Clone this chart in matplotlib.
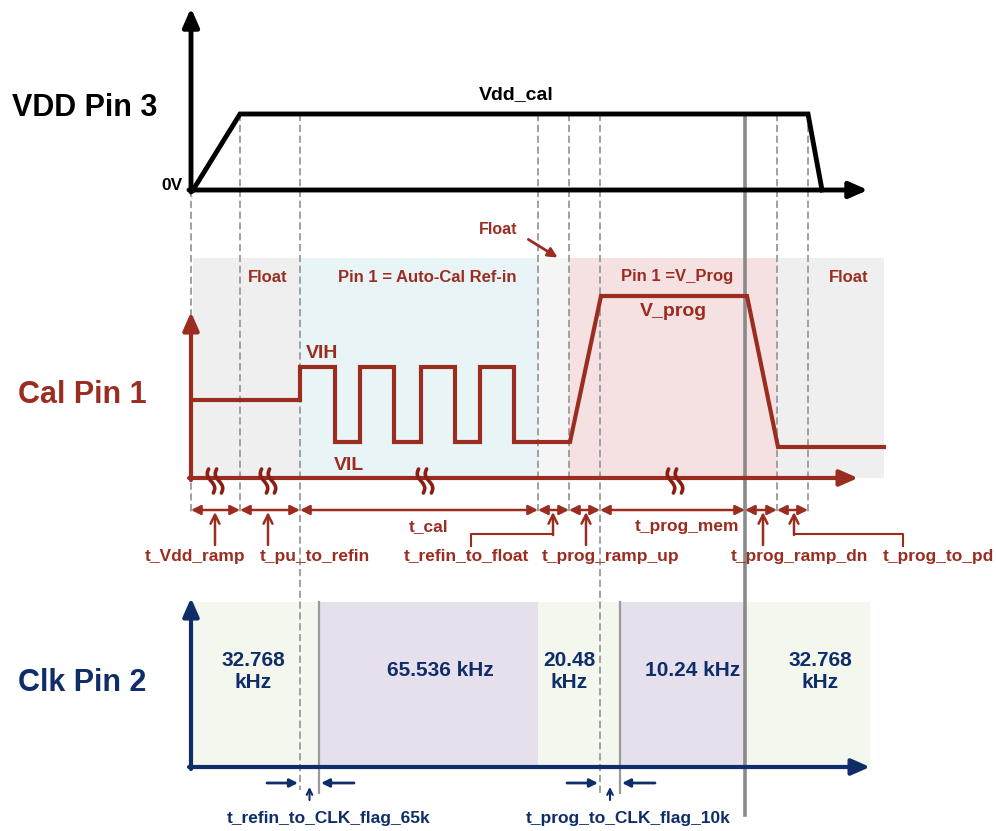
import matplotlib.pyplot as plt
import numpy as np

plt.rcParams['font.family'] = ['Liberation Sans', 'DejaVu Sans']
plt.rcParams['font.weight'] = 'bold'

RED = '#9b2d20'
NAVY = '#0f2d69'
GRID = '#9a9a9a'

# time marks (horizontal units) and levels (vertical units, top-down)
t_marks = [191, 240, 300, 538, 569, 600, 745, 777, 808]
t_clk_flags = [319, 620]

vdd_t = [193, 240, 808, 822]
vdd_v = [190, 114, 114, 190]

cal_t = [193, 300, 300, 335, 335, 360, 360, 394, 394, 421, 421, 455, 455,
         480, 480, 514, 514, 570, 601, 747, 778, 884]
cal_v = [400, 400, 367, 367, 442, 442, 367, 367, 442, 442, 367, 367, 442,
         442, 367, 367, 442, 442, 296, 296, 447, 447]

cal_regions = [(193, 300, '#efefef'), (300, 538, '#e9f4f7'), (538, 569, '#f5f5f5'),
               (569, 777, '#f5e1e1'), (777, 884, '#efefef')]
cal_region_labels = [(268, 'Float'), (427, 'Pin 1 = Auto-Cal Ref-in'),
                     (677, 'Pin 1 =V_Prog'), (849, 'Float')]

clk_regions = [(193, 319, '#f4f7ee'), (319, 538, '#e6e0ec'), (538, 620, '#f4f7ee'),
               (620, 746, '#e6e0ec'), (746, 870, '#f4f7ee')]
clk_labels = [(253, '32.768\nkHz'), (440, '65.536 kHz'), (569, '20.48\nkHz'),
              (693, '10.24 kHz'), (820, '32.768\nkHz')]

breaks = [215, 268, 425, 675]

# interval arrows: (start, end)
spans = [(191, 240), (240, 300), (300, 538), (538, 569), (569, 600),
         (600, 745), (745, 777), (777, 808)]
# timing labels: text, text x, pointer x, connector x (None = straight pointer)
timing = [('t_Vdd_ramp', 195, 215, None), ('t_pu_to_refin', 315, 268, None),
          ('t_refin_to_float', 466, 553, 471), ('t_prog_ramp_up', 611, 586, None),
          ('t_prog_ramp_dn', 799, 763, None), ('t_prog_to_pd', 938, 794, 903)]
span_labels = [(429, 't_cal'), (687, 't_prog_mem')]

flags = [(300, 319, 329, 't_refin_to_CLK_flag_65k'),
         (600, 620, 628, 't_prog_to_CLK_flag_10k')]

fig = plt.figure(figsize=(9.96, 8.31), dpi=100)
ax = fig.add_axes([0, 0, 1, 1])
ax.set_xlim(0, 996)
ax.set_ylim(831, 0)
ax.axis('off')

# shaded regions
for a, b, c in cal_regions:
    ax.fill_between([a, b], 258, 478, color=c, lw=0, zorder=0)
for a, b, c in clk_regions:
    ax.fill_between([a, b], 602, 767, color=c, lw=0, zorder=0)

# vertical guide lines
ends = {191: (190, 515), 240: (114, 515), 300: (114, 790), 538: (114, 515),
        569: (114, 515), 600: (114, 795), 777: (114, 515), 808: (114, 515)}
for t in t_marks:
    if t == 745:
        ax.plot([t, t], [114, 815], color='#8a8a8a', lw=2.6, zorder=1)
    else:
        y0, y1 = ends[t]
        ax.plot([t, t], [y0, y1], color=GRID, lw=1.3, ls=(0, (4, 2)), zorder=1)
for t in t_clk_flags:
    ax.plot([t, t], [602, 793], color=GRID, lw=1.6, zorder=1)


def axis_arrow(x0, y0, x1, y1, color, lw):
    ax.annotate('', xy=(x1, y1), xytext=(x0, y0),
                arrowprops=dict(arrowstyle='-|>,head_length=0.5,head_width=0.22',
                                color=color, lw=lw,
                                mutation_scale=22, shrinkA=0, shrinkB=0), zorder=3)


# VDD panel
axis_arrow(191, 192, 191, 8, 'black', 3.5)
axis_arrow(189, 190, 868, 190, 'black', 3.5)
ax.plot(vdd_t, vdd_v, color='black', lw=3.5, zorder=3, solid_joinstyle='miter')
ax.text(516, 95, 'Vdd_cal', fontsize=14, ha='center', va='center')
ax.text(172, 186, '0V', fontsize=12.5, ha='center', va='center')
ax.text(85, 108, 'VDD Pin 3', fontsize=22, ha='center', va='center')

# Cal panel
axis_arrow(191, 480, 191, 312, RED, 3)
axis_arrow(189, 478, 858, 478, RED, 3)
ax.plot(cal_t, cal_v, color=RED, lw=3, zorder=3, solid_joinstyle='miter')
for x, s in cal_region_labels:
    ax.text(x, 277, s, color=RED, fontsize=12, ha='center', va='center')
ax.text(498, 230, 'Float', color=RED, fontsize=11.5, ha='center', va='center')
ax.annotate('', xy=(560, 259), xytext=(526, 238),
            arrowprops=dict(arrowstyle='-|>', color=RED, lw=2, mutation_scale=14))
ax.text(322, 354, 'VIH', color=RED, fontsize=14, ha='center', va='center')
ax.text(349, 465, 'VIL', color=RED, fontsize=14, ha='center', va='center')
ax.text(673, 311, 'V_prog', color=RED, fontsize=14, ha='center', va='center')
ax.text(82, 395, 'Cal Pin 1', color=RED, fontsize=22, ha='center', va='center')

for b in breaks:
    yy = np.linspace(-12, 12, 40)
    for off in (-4, 4):
        ax.plot(b + off + 0.2 * yy + 2.4 * np.sin(yy / 12 * np.pi), 481 + yy,
                color='#8a1f14', lw=2.6, zorder=4, solid_capstyle='round')

# timing arrows
for a, b in spans:
    ax.annotate('', xy=(b, 510), xytext=(a, 510),
                arrowprops=dict(arrowstyle='<|-|>', color=RED, lw=1.8,
                                mutation_scale=14, shrinkA=0, shrinkB=0))
for x, s in span_labels:
    ax.text(x, 527, s, color=RED, fontsize=12.5, ha='center', va='center')
for s, tx, px, cx in timing:
    if cx is not None:
        ax.plot([cx, cx, px], [546, 534, 534], color=RED, lw=1.5)
        ax.annotate('', xy=(px, 512), xytext=(px, 535),
                    arrowprops=dict(arrowstyle='->', color=RED, lw=1.8,
                                    mutation_scale=16, shrinkA=0, shrinkB=0))
    else:
        ax.annotate('', xy=(px, 512), xytext=(px, 545),
                    arrowprops=dict(arrowstyle='->', color=RED, lw=1.8,
                                    mutation_scale=16, shrinkA=0, shrinkB=0))
    ax.text(tx, 556, s, color=RED, fontsize=12.5, ha='center', va='center')

# Clk panel
axis_arrow(191, 769, 191, 598, NAVY, 3)
axis_arrow(189, 767, 870, 767, NAVY, 3)
for x, s in clk_labels:
    ax.text(x, 671, s, color=NAVY, fontsize=15, ha='center', va='center',
            linespacing=1.2)
ax.text(82, 683, 'Clk Pin 2', color=NAVY, fontsize=22, ha='center', va='center')

for a, b, tx, s in flags:
    ax.annotate('', xy=(a - 2, 783), xytext=(a - 33, 783),
                arrowprops=dict(arrowstyle='-|>', color=NAVY, lw=2,
                                mutation_scale=12, shrinkA=0, shrinkB=0))
    ax.annotate('', xy=(b + 2, 783), xytext=(b + 35, 783),
                arrowprops=dict(arrowstyle='-|>', color=NAVY, lw=2,
                                mutation_scale=12, shrinkA=0, shrinkB=0))
    m = (a + b) / 2
    ax.annotate('', xy=(m, 787), xytext=(m, 800),
                arrowprops=dict(arrowstyle='->', color=NAVY, lw=1.5,
                                mutation_scale=10, shrinkA=0, shrinkB=0))
    ax.text(tx, 818, s, color=NAVY, fontsize=12.5, ha='center', va='center')

fig.savefig('out.png', dpi=100)
